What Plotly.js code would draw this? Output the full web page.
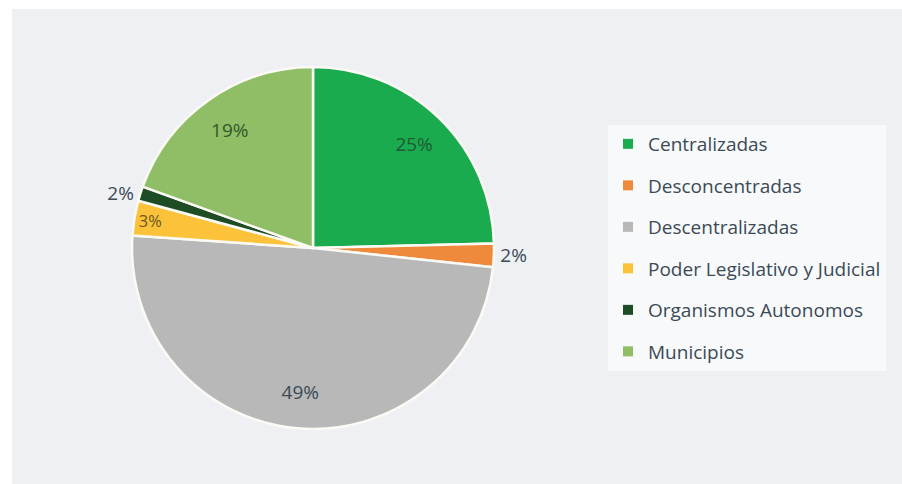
<!DOCTYPE html>
<html>
<head>
<meta charset="utf-8">
<script src="https://cdn.plot.ly/plotly-3.0.1.min.js"></script>
<style>html,body{margin:0;padding:0;background:#fff;}#chart{width:902px;height:484px;}</style>
</head>
<body>
<div id="chart"></div>
<script>
const categories = ["Centralizadas", "Desconcentradas", "Descentralizadas", "Poder Legislativo y Judicial", "Organismos Autonomos", "Municipios"];
const values = [24.6, 2.1, 49.4, 3.1, 1.3, 19.5];
const percentLabels = ["25%", "2%", "49%", "3%", "2%", "19%"];
const colors = ["#1aab4f", "#ef8a3c", "#b8b8b8", "#fbc23a", "#1e4d25", "#8fbe66"];
const labelColors = ["#1e5b34", "#3b4a55", "#3b4a55", "#6a5524", "#3b4a55", "#2f5a2a"];
const labelPositions = ["inside", "outside", "inside", "inside", "outside", "inside"];

const W = 902, H = 484;
const cx = 313, cy = 248, R = 181;
const domain = {x: [(cx - R) / W, (cx + R) / W], y: [(H - cy - R) / H, (H - cy + R) / H]};

// filled pie (no text)
const pie = {
  type: "pie",
  labels: categories,
  values: values,
  textinfo: "none",
  sort: false,
  direction: "clockwise",
  rotation: 0,
  showlegend: false,
  hoverinfo: "none",
  marker: {colors: colors, line: {color: "#fbfaf5", width: 2.5}},
  domain: domain
};

// transparent ring on top that carries the percentage labels
const labelRing = {
  type: "pie",
  labels: categories,
  values: values,
  text: percentLabels,
  textinfo: "text",
  textposition: labelPositions,
  insidetextorientation: "horizontal",
  hole: 0.6,
  sort: false,
  direction: "clockwise",
  rotation: 0,
  showlegend: false,
  hoverinfo: "none",
  marker: {colors: categories.map(() => "rgba(0,0,0,0)"), line: {width: 0}},
  textfont: {family: "Open Sans", size: 19, color: labelColors},
  insidetextfont: {family: "Open Sans", size: 19, color: labelColors},
  outsidetextfont: {family: "Open Sans", size: 19, color: "#3b4a55"},
  domain: domain
};

const legendTraces = categories.map((c, i) => ({
  type: "scatter",
  mode: "markers",
  x: [null], y: [null],
  name: c,
  legendgroup: "g" + i,
  marker: {symbol: "square", size: 10, color: colors[i]},
  hoverinfo: "none"
}));

const layout = {
  width: W, height: H,
  margin: {l: 0, r: 0, t: 0, b: 0},
  paper_bgcolor: "#ffffff",
  plot_bgcolor: "#eef0f3",
  xaxis: {visible: false, domain: [12 / W, 1], fixedrange: true},
  yaxis: {visible: false, domain: [0, 1 - 9 / H], fixedrange: true},
  showlegend: true,
  legend: {
    x: 608 / W, xanchor: "left",
    y: 1 - 125 / H, yanchor: "top",
    bgcolor: "#f8f9fb",
    borderwidth: 0,
    tracegroupgap: 13.8,
    font: {family: "Open Sans", size: 19, color: "#3b4a55"}
  },
  hovermode: false
};

Plotly.newPlot("chart", [pie, labelRing, ...legendTraces], layout, {displayModeBar: false, staticPlot: true});
</script>
</body>
</html>
